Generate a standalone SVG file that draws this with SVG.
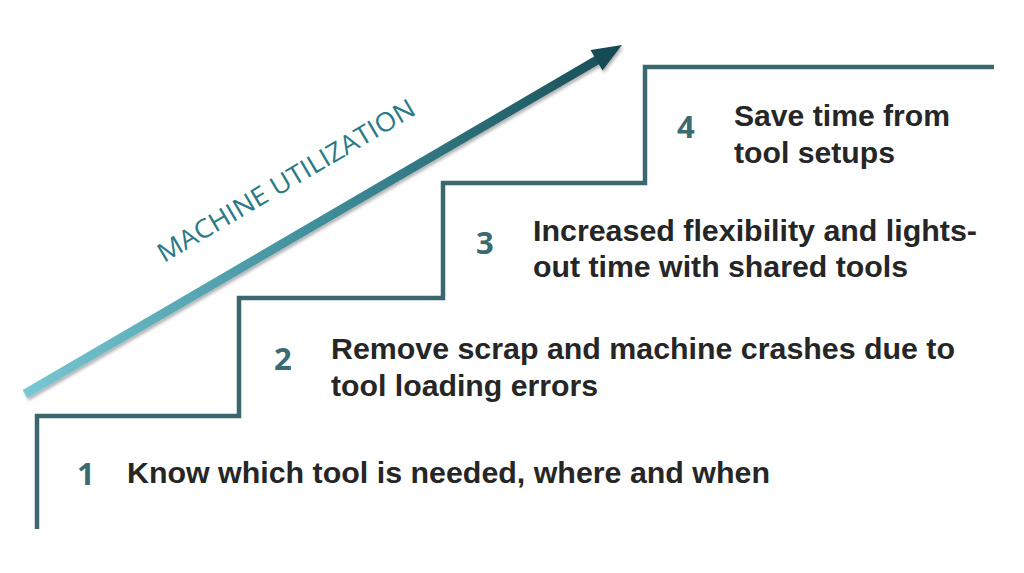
<svg xmlns="http://www.w3.org/2000/svg" width="1024" height="573" viewBox="0 0 1024 573">
<defs>
<linearGradient id="arrowGrad" gradientUnits="userSpaceOnUse" x1="25" y1="394" x2="621" y2="46">
<stop offset="0" stop-color="#78c7d3"/>
<stop offset="0.5" stop-color="#3f8d9a"/>
<stop offset="1" stop-color="#174c55"/>
</linearGradient>
<filter id="shadow" x="-10%" y="-10%" width="120%" height="130%">
<feDropShadow dx="1.5" dy="2.5" stdDeviation="1.5" flood-color="#000" flood-opacity="0.3"/>
</filter>
<style>
.stair{fill:none;stroke:#3b686e;stroke-width:4.5;stroke-linejoin:miter}
.num{font-family:"Open Sans","Liberation Sans",sans-serif;font-weight:bold;font-size:31px;fill:#3b6a70}
.txt{font-family:"Liberation Sans",Arial,sans-serif;font-weight:bold;font-size:30px;fill:#262626}
.axis{font-family:"Open Sans","Liberation Sans",sans-serif;font-size:26px;fill:#2a7a86}
</style>
</defs>
<rect width="1024" height="573" fill="#ffffff"/>
<g id="stairs">
<path class="stair" d="M37 529 V416 H239 V298 H443 V183 H645 V67 H994"/>
</g>
<g id="arrow" filter="url(#shadow)">
<line x1="25" y1="394" x2="598" y2="59.5" stroke="url(#arrowGrad)" stroke-width="9"/>
<polygon points="622,45 602.5,70.5 590.5,50" fill="#174c55"/>
</g>
<g id="axis-label">
<text class="axis" transform="translate(164,263) rotate(-30.5)" textLength="294" lengthAdjust="spacingAndGlyphs">MACHINE UTILIZATION</text>
</g>
<g id="step1">
<text class="num" x="77" y="485">1</text>
<text class="txt" x="127" y="483" textLength="643" lengthAdjust="spacingAndGlyphs">Know which tool is needed, where and when</text>
</g>
<g id="step2">
<text class="num" x="274" y="370">2</text>
<text class="txt" x="331" y="359" textLength="624" lengthAdjust="spacingAndGlyphs">Remove scrap and machine crashes due to</text>
<text class="txt" x="331" y="396" textLength="267" lengthAdjust="spacingAndGlyphs">tool loading errors</text>
</g>
<g id="step3">
<text class="num" x="476" y="254">3</text>
<text class="txt" x="533" y="241" textLength="444" lengthAdjust="spacingAndGlyphs">Increased flexibility and lights-</text>
<text class="txt" x="533" y="277" textLength="375" lengthAdjust="spacingAndGlyphs">out time with shared tools</text>
</g>
<g id="step4">
<text class="num" x="677" y="138">4</text>
<text class="txt" x="734" y="126" textLength="216" lengthAdjust="spacingAndGlyphs">Save time from</text>
<text class="txt" x="734" y="163" textLength="161" lengthAdjust="spacingAndGlyphs">tool setups</text>
</g>
</svg>
